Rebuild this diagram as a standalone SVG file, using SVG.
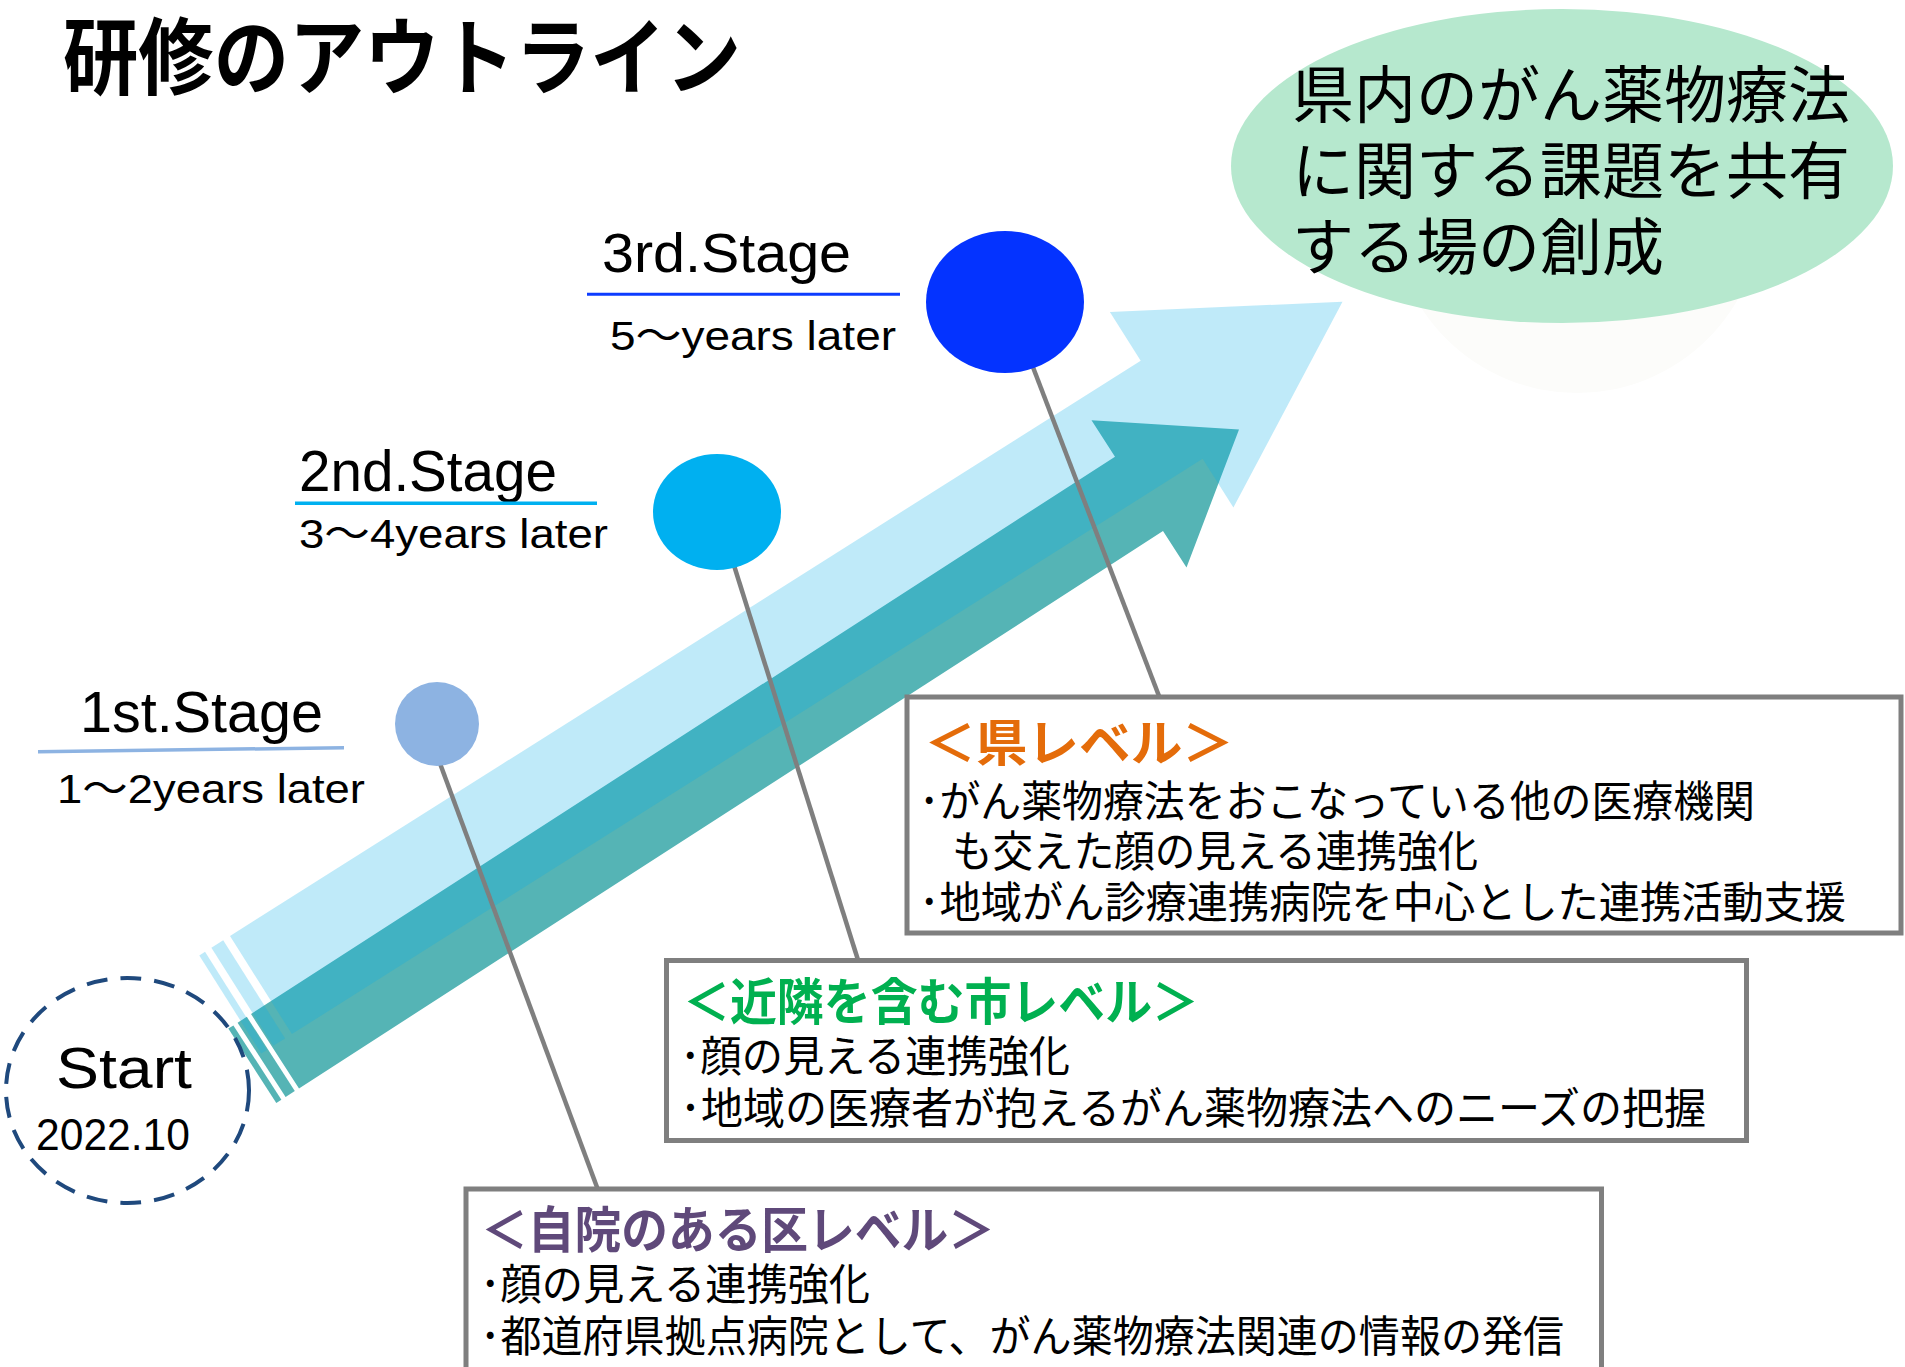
<svg xmlns="http://www.w3.org/2000/svg" width="1905" height="1367" viewBox="0 0 1905 1367">
  <style>
    .jp { font-family: "Noto Sans CJK JP", sans-serif; fill: #000000; }
    .jpb { font-family: "Noto Sans CJK JP", sans-serif; font-weight: bold; }
    .lat { font-family: "Liberation Sans", "Noto Sans CJK JP", sans-serif; fill: #000000; }
    .arrowA { fill: #08ACE6; fill-opacity: 0.26; }
    .arrowB { fill: #55B4B5; }
    .box { fill: #FFFFFF; stroke: #7F7F7F; stroke-width: 5; }
    .conn { stroke: #7F7F7F; stroke-width: 4.5; fill: none; }
  </style>

  <rect x="0" y="0" width="1905" height="1367" fill="#FFFFFF"/>

  <g id="title">
    <text class="jpb" x="63" y="88" font-size="84" textLength="678" lengthAdjust="spacingAndGlyphs">研修のアウトライン</text>
  </g>

  <g id="goal">
    <circle cx="1577" cy="208" r="185" fill="#FCFCFA"/>
    <ellipse cx="1562" cy="166" rx="331" ry="157" fill="#B6E8CE"/>
    <text class="jp" x="1292" y="118" font-size="62">県内のがん薬物療法</text>
    <text class="jp" x="1292" y="194" font-size="62">に関する課題を共有</text>
    <text class="jp" x="1292" y="270" font-size="62">する場の創成</text>
  </g>

  <g id="progress-arrows">
    <polygon class="arrowB" points="251,1014 1115,456.7 1091.5,420.3 1239,429.4 1186.5,567.5 1163,531.1 299,1088.4"/>
    <polygon class="arrowB" points="246.8,1016.7 237.6,1022.7 285.6,1097.1 294.8,1091.1"/>
    <polygon class="arrowB" points="233.4,1025.4 228.3,1028.6 276.3,1103 281.4,1099.8"/>
    <polygon class="arrowA" points="230,936 1140.7,360.7 1109.9,311.9 1342.5,301.8 1233.4,507.6 1202.6,458.8 291.9,1034.1"/>
    <polygon class="arrowA" points="223.2,940.3 211.4,947.7 273.3,1045.8 285.1,1038.4"/>
    <polygon class="arrowA" points="205,951.8 199.3,955.4 261.2,1053.5 266.9,1049.9"/>
  </g>

  <g id="connectors">
    <line class="conn" x1="440.2" y1="764" x2="597.3" y2="1188"/>
    <line class="conn" x1="734.5" y1="567" x2="858" y2="960"/>
    <line class="conn" x1="1031" y1="362" x2="1159" y2="696"/>
  </g>

  <g id="stage1">
    <text class="lat" x="80" y="732" font-size="58" textLength="243" lengthAdjust="spacingAndGlyphs">1st.Stage</text>
    <line x1="38" y1="751.7" x2="344" y2="747.7" stroke="#8DB3E2" stroke-width="3.5"/>
    <text class="lat" x="57" y="803" font-size="41" textLength="308" lengthAdjust="spacingAndGlyphs">1～2years later</text>
    <ellipse cx="437" cy="724" rx="42" ry="42" fill="#8DB3E2"/>
  </g>

  <g id="stage2">
    <text class="lat" x="299" y="491" font-size="58" textLength="258" lengthAdjust="spacingAndGlyphs">2nd.Stage</text>
    <line x1="295" y1="503.3" x2="597" y2="503.3" stroke="#00B0F0" stroke-width="3.5"/>
    <text class="lat" x="299" y="548" font-size="41" textLength="309" lengthAdjust="spacingAndGlyphs">3～4years later</text>
    <ellipse cx="717" cy="512" rx="64" ry="58" fill="#00B0F0"/>
  </g>

  <g id="stage3">
    <text class="lat" x="602" y="272" font-size="56" textLength="249" lengthAdjust="spacingAndGlyphs">3rd.Stage</text>
    <line x1="587" y1="294.3" x2="900" y2="294.3" stroke="#0D3CFF" stroke-width="3"/>
    <text class="lat" x="610" y="350" font-size="41" textLength="286" lengthAdjust="spacingAndGlyphs">5～years later</text>
    <ellipse cx="1005" cy="302" rx="79" ry="71" fill="#0433FF"/>
  </g>

  <g id="start">
    <ellipse cx="127.5" cy="1090.5" rx="121.5" ry="112.5" fill="none" stroke="#1F497D" stroke-width="4" stroke-dasharray="21 13"/>
    <text class="lat" x="56" y="1088" font-size="58" textLength="136" lengthAdjust="spacingAndGlyphs">Start</text>
    <text class="lat" x="36" y="1150" font-size="45" textLength="154" lengthAdjust="spacingAndGlyphs">2022.10</text>
  </g>

  <g id="box-prefecture">
    <rect class="box" x="907" y="697" width="994" height="236"/>
    <text class="jpb" x="924" y="761" font-size="50" fill="#E46C0A" textLength="310" lengthAdjust="spacingAndGlyphs">＜県レベル＞</text>
    <text class="jp" x="919" y="817" font-size="43" textLength="836" lengthAdjust="spacingAndGlyphs">･がん薬物療法をおこなっている他の医療機関</text>
    <text class="jp" x="952" y="867" font-size="43" textLength="526" lengthAdjust="spacingAndGlyphs">も交えた顔の見える連携強化</text>
    <text class="jp" x="919" y="918" font-size="43" textLength="927" lengthAdjust="spacingAndGlyphs">･地域がん診療連携病院を中心とした連携活動支援</text>
  </g>

  <g id="box-city">
    <rect class="box" x="666.5" y="960.5" width="1080" height="180"/>
    <text class="jpb" x="683" y="1020" font-size="50" fill="#00B050" textLength="516" lengthAdjust="spacingAndGlyphs">＜近隣を含む市レベル＞</text>
    <text class="jp" x="680" y="1072" font-size="43" textLength="390" lengthAdjust="spacingAndGlyphs">･顔の見える連携強化</text>
    <text class="jp" x="680" y="1124" font-size="43" textLength="1026" lengthAdjust="spacingAndGlyphs">･地域の医療者が抱えるがん薬物療法へのニーズの把握</text>
  </g>

  <g id="box-ward">
    <rect class="box" x="466" y="1189" width="1135.5" height="300"/>
    <text class="jpb" x="481" y="1248" font-size="50" fill="#5F497A" textLength="514" lengthAdjust="spacingAndGlyphs">＜自院のある区レベル＞</text>
    <text class="jp" x="480" y="1300" font-size="43" textLength="390" lengthAdjust="spacingAndGlyphs">･顔の見える連携強化</text>
    <text class="jp" x="480" y="1352" font-size="43" textLength="1084" lengthAdjust="spacingAndGlyphs">･都道府県拠点病院として、がん薬物療法関連の情報の発信</text>
  </g>
</svg>
